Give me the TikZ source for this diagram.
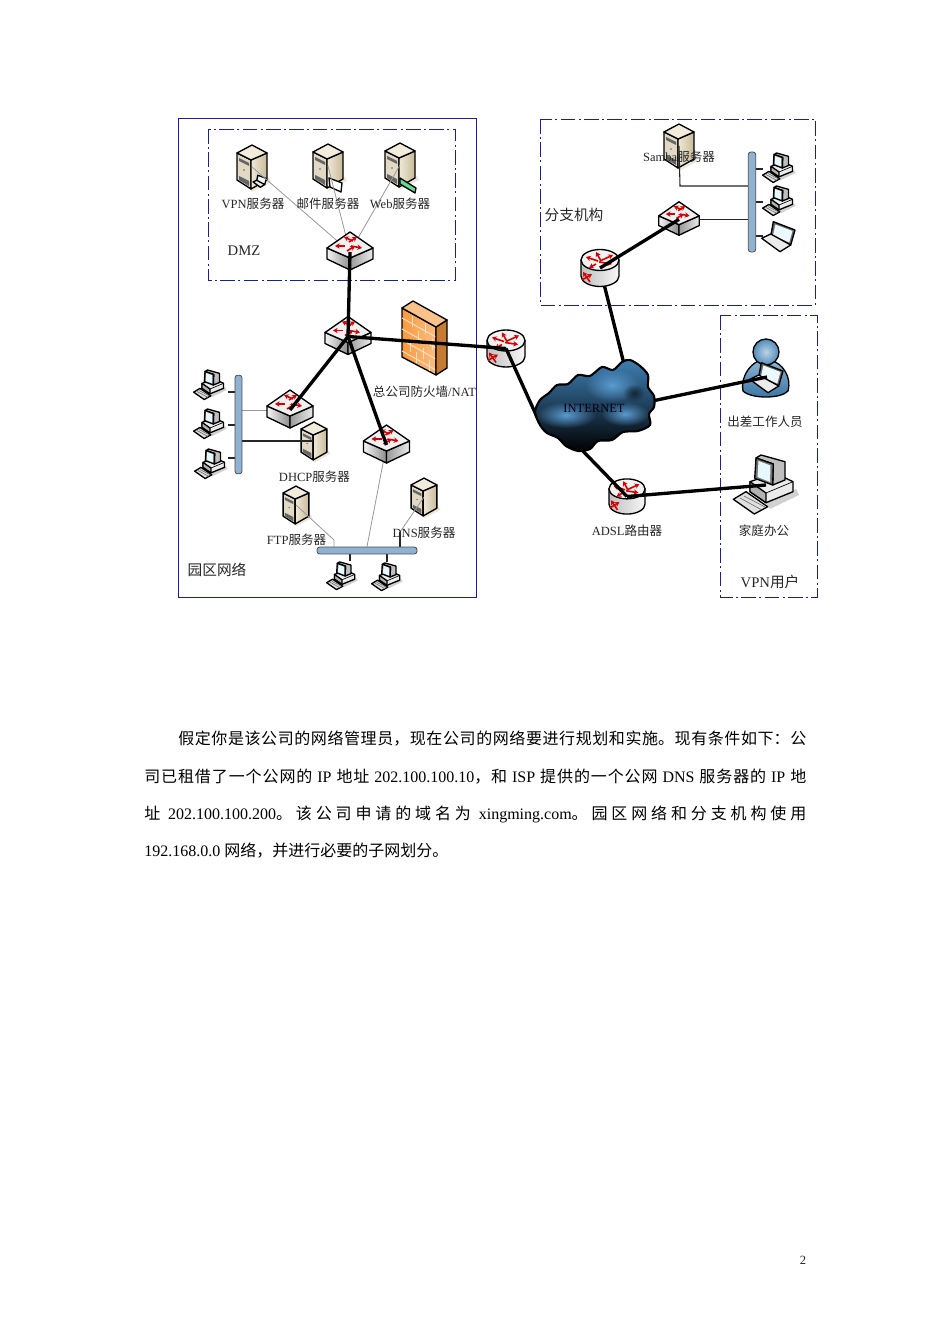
\documentclass[tikz,border=0pt]{standalone}
\usepackage{fontspec}
\setmainfont{Liberation Serif}
\newfontfamily\cjk{Noto Sans CJK SC}
\newcommand{\zh}[1]{{\cjk #1}}
\XeTeXlinebreaklocale "zh"
\XeTeXlinebreakskip=0pt plus 1.5pt
\usetikzlibrary{calc,arrows.meta,fadings}
\pgfdeclarelayer{svr}
\pgfdeclarelayer{back}
\pgfdeclarelayer{top}
\pgfsetlayers{svr,back,main,top}
\definecolor{frameblue}{HTML}{1C1CA0}
\definecolor{busblue}{HTML}{8FB2D2}
\definecolor{srvtop}{HTML}{F2ECDD}
\definecolor{srvfront}{HTML}{E2D9C4}
\definecolor{srvlight}{HTML}{F0E9D8}
\definecolor{srvdark}{HTML}{C8BA98}
\definecolor{wallorange}{HTML}{F79A3E}
\definecolor{cloudblue}{HTML}{3E7FB4}
\definecolor{cloudspot}{HTML}{5A9BD0}
\tikzfading[name=softspot, inner color=transparent!0, outer color=transparent!100]
\tikzset{
  lab/.style={font=\fontsize{9.4}{11}\selectfont, inner sep=0pt, text=black!85},
  biglab/.style={font=\fontsize{11}{13}\selectfont, inner sep=0pt, text=black!85},
  bodytext/.style={font=\fontsize{12}{28}\selectfont, inner sep=0pt, text width=496.5pt, align=justify},
  solidframe/.style={draw=frameblue, line width=.7pt},
  dashframe/.style={draw=frameblue, line width=.6pt, dash pattern=on 11pt off 2.5pt on 1.5pt off 2.5pt},
  thickline/.style={draw=black, line width=2.5pt},
  thinline/.style={draw=black!40, line width=.6pt},
  darkline/.style={draw=black!85, line width=.8pt},
  busbar/.style={draw=black!70, fill=busblue, rounded corners=2pt, line width=.6pt, inner sep=0pt},
  iconline/.style={draw=black, line width=1pt, line join=round},
  redarrow/.style={draw=red!85!black, line width=1.2pt, -{Stealth[length=3.5pt,width=4pt]}},
  svrbox/.pic={
    \coordinate (-c) at (0,0);
    \fill[srvdark!35] (-3,20) -- (17,11) -- (19,15) -- (0,25) -- cycle;
    \draw[iconline, fill=srvfront] (-15,-14) -- (-1,-7) -- (-1,22) -- (-15,13) -- cycle;
    \draw[iconline, left color=srvlight, right color=srvdark] (-1,-7) -- (15,-14) -- (15,13) -- (-1,22) -- cycle;
    \draw[iconline, fill=srvtop] (0,-22) -- (15,-14) -- (-1,-7) -- (-15,-14) -- cycle;
    \fill[black!60] (-13,-9) -- (-3,-4) -- (-3,-1) -- (-13,-6) -- cycle;
    \fill[black!60] (-13,9) -- (-3,14) -- (-3,19) -- (-13,13) -- cycle;
    \fill[black!60] (-8,3) circle[radius=.9];
  },
  swbox/.pic={
    \coordinate (-c) at (0,1);
    \draw[iconline, left color=black!4, right color=black!45] (-23,-3) -- (0,7) -- (0,19) -- (-23,8) -- cycle;
    \draw[iconline, left color=black!40, right color=black!8] (0,7) -- (23,-3) -- (23,8) -- (0,19) -- cycle;
    \draw[iconline, fill=black!6] (0,-19) -- (23,-3) -- (0,7) -- (-23,-3) -- cycle;
    \draw[redarrow] (-1,-9) -- (7,-14);
    \draw[redarrow] (3,-10) -- (-6,-14);
    \draw[redarrow] (-5,-5) -- (-15,-5);
    \draw[redarrow] (1,-5) -- (12,-3);
    \draw[redarrow] (-3,0) -- (5,-5);
  },
  rtbox/.pic={
    \coordinate (-c) at (0,0);
    \draw[iconline, left color=black!25, right color=black!3] (-19,-8) -- (-19,8) .. controls (-19,14) and (-10,18.5) .. (0,18.5) .. controls (10,18.5) and (19,14) .. (19,8) -- (19,-8) -- cycle;
    \draw[iconline, fill=black!5] (-19,-8) .. controls (-19,-14) and (-10,-18.5) .. (0,-18.5) .. controls (10,-18.5) and (19,-14) .. (19,-8) .. controls (19,-2) and (10,2.5) .. (0,2.5) .. controls (-10,2.5) and (-19,-2) .. (-19,-8) -- cycle;
    \draw[redarrow] (-2,-7) -- (-14,-11);
    \draw[redarrow] (0,-7) -- (13,-13);
    \draw[redarrow] (1,-7) -- (-4,-16);
    \draw[redarrow] (-1,-6) -- (12,-4);
    \draw[redarrow] (-4,-4) -- (-11,0);
    \draw[redarrow] (-10,14) -- (-17,4);
    \draw[redarrow] (-18,12) -- (-8,6);
  },
  pcbox/.pic={
    \coordinate (-c) at (0,0);
    \fill[black!18] (0,18) -- (30,4) -- (33,10) -- (4,24) -- cycle;
    \draw[iconline, fill=black!8] (-16,-3.3) -- (9,-12) -- (27,-3.3) -- (27,6.7) -- (0,17.7) -- (-16,6.7) -- cycle;
    \draw[iconline, fill=black!30] (-16,-3.3) -- (0,8) -- (0,17.7) -- (-16,6.7) -- cycle;
    \draw[line width=.5pt] (0,8) -- (27,-3.3);
    \draw[iconline, fill=black!25] (7.3,-21) -- (-10,-27) -- (-5,-30) -- (19,-23.3) -- (19,-5) -- (6.7,0) -- cycle;
    \draw[iconline, fill=black!55] (-10,-27) -- (7.3,-21) -- (6.7,0) -- (-11.3,-6.7) -- cycle;
    \fill[white!90!cyan] (-7.5,-24) -- (4.5,-19.5) -- (4,-3) -- (-8.5,-8) -- cycle;
    \draw[iconline, fill=black!12] (-32.7,14.3) -- (-20,6.7) -- (1.7,21.7) -- (-11.7,29) -- cycle;
    \draw[black!55, line width=.5pt] (-26,13) -- (-5,24.5) (-22,11) -- (-1,22);
  },
  lapbox/.pic={
    \coordinate (-c) at (0,0);
    \draw[iconline, fill=black!60] (-5.7,-14.3) -- (16,-6) -- (11.7,9) -- (-8.3,0) -- cycle;
    \fill[white!92!cyan] (-3.6,-11.5) -- (13.5,-5) -- (10.2,6.5) -- (-6,-.8) -- cycle;
    \draw[iconline, fill=black!8] (-17.3,2.3) -- (-8.3,-2) -- (11.7,9) -- (1,15.7) -- cycle;
  },
  userbox/.pic={
    \coordinate (-c) at (0,0);
    \draw[iconline, line width=1pt, top color=cloudblue!60, bottom color=cloudblue!90!black] (-23,22) .. controls (-26,5) and (-12,-8) .. (-6,-8) -- (6,-8) .. controls (16,-6) and (26,8) .. (22,22) .. controls (15,30) and (-15,30) .. (-23,22) -- cycle;
    \draw[iconline, inner color=cloudblue!35, outer color=cloudblue!90] (0,-17) circle[radius=13];
  },
  wallbox/.pic={
    \coordinate (-c) at (0,0);
    \draw[iconline, left color=wallorange, right color=wallorange!65] (-22,-30) -- (12,-11) -- (12,37) -- (-22,19) -- cycle;
    \foreach \ybrick in {-20,-9,2,13}
      \draw[white!70!wallorange, line width=.7pt] (-22,\ybrick) -- (12,{\ybrick+19});
    \foreach \xbrick/\ybrick in {-12/-22,1/-15,-6/-7,8/1,-14/3,-1/10,-8/14,5/22}
      \draw[white!70!wallorange, line width=.7pt] (\xbrick,\ybrick) -- (\xbrick,{\ybrick+11});
    \draw[iconline, fill=wallorange!80!black] (12,-11) -- (23,-18) -- (23,30) -- (12,37) -- cycle;
    \draw[iconline, fill=wallorange!60] (-22,-30) -- (-11,-37) -- (23,-18) -- (12,-11) -- cycle;
  }
}
\begin{document}
\begin{tikzpicture}[x=.75pt,y=-.75pt]
\useasboundingbox (0,0) rectangle (950,1344);

% servers lie under the thin lines
\begin{pgfonlayer}{svr}
  \fill[white] (0,0) rectangle (950,1344);
  \pic (vpnsrv) at (252,167) {svrbox};
  \pic (mailsrv) at (328,166) {svrbox};
  \pic (websrv) at (400,165) {svrbox};
  \pic[scale=.86] (dhcpsrv) at (314,441) {svrbox};
  \pic[scale=.86] (ftpsrv) at (296,505) {svrbox};
  \pic[scale=.86] (dnssrv) at (424,497) {svrbox};
  \pic (sambasrv) at (679,146) {svrbox};
  \pic[scale=.4] (vpnlap) at (260,181) {lapbox};
  \draw[iconline, fill=white] (329,178) -- (342,183) -- (341,192) -- (330,187) -- cycle;
  \draw[iconline, fill=green!50!teal!60] (400,178) -- (416,188) -- (415,193) -- (400,184) -- cycle;
\end{pgfonlayer}

% frames
\draw[solidframe] (178.5,118) rectangle (476,597);
\draw[dashframe] (208,129) rectangle (455,280);
\draw[dashframe] (540,119) rectangle (815,305);
\draw[dashframe] (720,315) rectangle (817,597);

% buses
\node[busbar, minimum width=5.2pt, minimum height=74pt] (busleft) at (238.5,424.5) {};
\node[busbar, minimum width=75pt, minimum height=5.2pt] (busdown) at (367,550.5) {};
\node[busbar, minimum width=5.6pt, minimum height=75pt] (busbranch) at (752,202) {};

% switches, routers, firewall
\pic (swdmz) at (350,251) {swbox};
\pic (swcore) at (348,335.5) {swbox};
\pic (swleft) at (290,409) {swbox};
\pic (swdown) at (386.5,444) {swbox};
\pic[scale=.88] (swbranch) at (679,218.5) {swbox};
\pic (rtcore) at (506,348.5) {rtbox};
\pic (rtbranch) at (600,268) {rtbox};
\pic[scale=.95] (rtadsl) at (627,496.5) {rtbox};
\pic (fw) at (424,338) {wallbox};

% hosts
\pic[scale=.5] (pca) at (210,385) {pcbox};
\pic[scale=.5] (pcb) at (210,424) {pcbox};
\pic[scale=.5] (pcc) at (211,464) {pcbox};
\pic[scale=.47] (pcd) at (342,576) {pcbox};
\pic[scale=.47] (pce) at (387,577) {pcbox};
\pic[scale=.5] (pcf) at (779,168) {pcbox};
\pic[scale=.5] (pcg) at (779,201) {pcbox};
\pic (lapbranch) at (779,236) {lapbox};
\pic (user) at (766,369) {userbox};
\pic (lapuser) at (767,377) {lapbox};
\pic (pchome) at (766,485) {pcbox};

% cloud
\coordinate (inetn) at (624,364);
\coordinate (inetw) at (537,417);
\coordinate (inets) at (580,448);
\coordinate (inete) at (652,401);
\begin{pgfonlayer}{top}
  \draw[draw=black, line width=1.6pt, top color=cloudblue, middle color=cloudblue!65!black, bottom color=black] plot[smooth cycle, tension=.5] coordinates {(535,412) (540,400) (549,393) (557,385) (568,384) (578,375) (590,376) (602,367) (613,370) (622,362) (630,360) (640,366) (648,375) (648,387) (654,396) (654,407) (649,414) (650,425) (638,431) (623,432) (612,440) (598,441) (590,449) (578,451) (566,446) (558,438) (547,433) (540,425)};
  \fill[cloudspot, path fading=softspot] (566,415) ellipse[x radius=30, y radius=13];
  \fill[cloudspot, path fading=softspot] (625,414) ellipse[x radius=24, y radius=12];
  \fill[cloudspot, path fading=softspot] (612,385) ellipse[x radius=27, y radius=17];
  \fill[cloudblue!30!black, path fading=softspot] (634,393) ellipse[x radius=11, y radius=9];
  \node[lab, text=black!90!blue] (internet) at (594,408) {INTERNET};
\end{pgfonlayer}

% bus taps
\coordinate (tapa) at (228,392);
\coordinate (tapb) at (228,425);
\coordinate (tapc) at (228,458);
\coordinate (tapd) at (350,561);
\coordinate (tape) at (387,562);
\coordinate (tapf) at (763,169);
\coordinate (tapg) at (763,202);
\coordinate (taph) at (763,236);
\coordinate (ftpbend) at (334,540);
\coordinate (dnsbend) at (400,532);
\coordinate (sambabend) at (680,186);
\coordinate (dhcpin) at (313,441);

\begin{pgfonlayer}{back}
  \draw[thinline] (vpnsrv-c) -- (swdmz-c);
  \draw[thinline] (mailsrv-c) -- (swdmz-c);
  \draw[thinline] (websrv-c) -- (swdmz-c);
  \draw[thinline] (busleft.east |- swleft-c) -- (swleft-c);
  \draw[darkline] (busleft.east |- dhcpin) -- (dhcpin);
  \draw[thinline] (ftpsrv-c) -- (ftpbend) -- (ftpbend |- busdown.north);
  \draw[thinline] (dnssrv-c) -- (dnsbend);
  \draw[darkline] (dnsbend) -- (dnsbend |- busdown.north);
  \draw[thinline] (swdown-c) -- (busdown.north);
  \draw[darkline] (tapa) -- (tapa -| busleft.east);
  \draw[darkline] (tapb) -- (tapb -| busleft.east);
  \draw[darkline] (tapc) -- (tapc -| busleft.east);
  \draw[darkline] (tapd) -- (tapd |- busdown.south);
  \draw[darkline] (tape) -- (tape |- busdown.south);
  \draw[darkline] (tapf) -- (tapf -| busbranch.east);
  \draw[darkline] (tapg) -- (tapg -| busbranch.east);
  \draw[darkline] (taph) -- (taph -| busbranch.east);
  \draw[darkline] (sambasrv-c) -- (sambabend) -- (sambabend -| busbranch.west);
  \draw[darkline] (swbranch-c) -- (swbranch-c -| busbranch.west);
  \draw[thickline] (rtbranch-c) -- (inetn);
\end{pgfonlayer}

% trunk lines
\draw[thickline] (swdmz-c) -- (swcore-c);
\draw[thickline] (swcore-c) -- (swleft-c);
\draw[thickline] (swcore-c) -- (swdown-c);
\draw[thickline] (swcore-c) -- (rtcore-c);
\draw[thickline] (rtcore-c) -- (inetw);
\draw[thickline] (rtbranch-c) -- (swbranch-c);
\draw[thickline] (inete) -- (lapuser-c);
\draw[thickline] (inets) -- (rtadsl-c);
\draw[thickline] (rtadsl-c) -- (pchome-c);

% labels
\node[lab] (vpnlabel) at (253,203.5) {VPN\zh{服务器}};
\node[lab] (maillabel) at (328,203.5) {\zh{邮件服务器}};
\node[lab] (weblabel) at (400,203.5) {Web\zh{服务器}};
\node[biglab] (dmzlabel) at (244,251) {DMZ};
\node[lab] (fwlabel) at (424.5,392) {\zh{总公司防火墙}/NAT};
\node[lab] (dhcplabel) at (314.5,476.5) {DHCP\zh{服务器}};
\node[lab] (ftplabel) at (296.5,539.5) {FTP\zh{服务器}};
\node[lab] (dnslabel) at (424,532.5) {DNS\zh{服务器}};
\node[biglab] (camplabel) at (217,570) {\zh{园区网络}};
\node[lab] (sambalabel) at (679,156.5) {Samba\zh{服务器}};
\node[biglab] (branchlabel) at (574,214.5) {\zh{分支机构}};
\node[lab] (triplabel) at (765,421.5) {\zh{出差工作人员}};
\node[lab] (adsllabel) at (627,530.5) {ADSL\zh{路由器}};
\node[lab] (homelabel) at (764,530.5) {\zh{家庭办公}};
\node[biglab] (vpnuserlabel) at (770,581.5) {VPN\zh{用户}};

% text below the figure
\node[bodytext, anchor=north west] (para) at (144,731) {\tolerance=9999\hspace*{25.5pt}\zh{假定你是该公司的网络管理员，现在公司的网络要进行规划和实施。现有条件如下：公}\linebreak
\zh{司已租借了一个公网的} IP \zh{地址} 202.100.100.10\zh{，和} ISP \zh{提供的一个公网} DNS \zh{服务器的} IP \zh{地}\linebreak
\zh{址} 202.100.100.200\zh{。该公司申请的域名为} xingming.com\zh{。园区网络和分支机构使用}\linebreak
192.168.0.0 \zh{网络，并进行必要的子网划分。}};
\node[lab] (pagenum) at (803,1260) {2};
\end{tikzpicture}
\end{document}
